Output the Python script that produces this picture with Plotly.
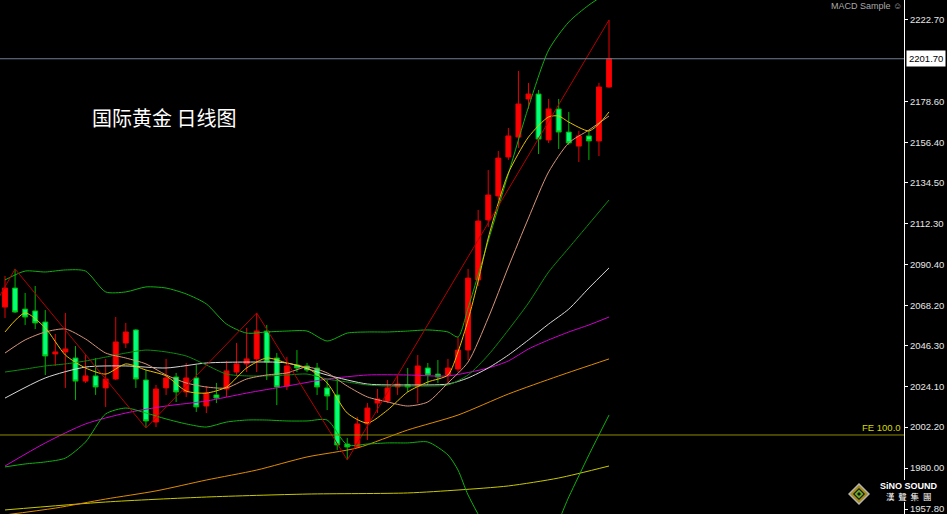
import plotly.graph_objects as go

# ---------------- candle data (daily, 61 bars) ----------------
bar_idx = list(range(61))
opens = [2067.2, 2077.5, 2066.1, 2065.1, 2059.1, 2041.8, 2042.9, 2039.6, 2027.1, 2029.9,
         2023.4, 2028.2, 2047.7, 2054.8, 2027.7, 2004.9, 2023.4, 2029.3, 2021.2, 2028.8,
         2013.6, 2019.6, 2022.8, 2032.0, 2036.4, 2039.1, 2054.2, 2039.6, 2024.4, 2035.8,
         2035.3, 2034.2, 2023.4, 2019.6, 1993.0, 1991.4, 2003.9, 2015.2, 2016.3, 2023.9,
         2025.0, 2024.4, 2034.2, 2030.9, 2030.4, 2033.6, 2043.9, 2081.9, 2114.4, 2127.4,
         2148.5, 2159.3, 2179.9, 2182.6, 2157.7, 2174.5, 2162.0, 2154.4, 2159.9, 2157.2,
         2186.4]
highs = [2084.0, 2087.8, 2074.8, 2078.6, 2065.6, 2052.6, 2064.0, 2046.1, 2041.2, 2039.6,
         2039.1, 2061.8, 2058.6, 2055.3, 2033.1, 2025.0, 2039.1, 2031.5, 2036.9, 2035.8,
         2024.4, 2026.1, 2038.0, 2047.7, 2055.9, 2064.0, 2057.5, 2042.3, 2040.1, 2043.9,
         2036.9, 2036.9, 2027.7, 2028.8, 1996.3, 2007.6, 2015.2, 2022.8, 2027.7, 2029.9,
         2034.2, 2041.2, 2036.9, 2038.5, 2039.1, 2051.0, 2087.8, 2119.8, 2141.4, 2151.7,
         2164.2, 2195.1, 2188.6, 2184.8, 2179.9, 2179.9, 2172.9, 2162.6, 2162.6, 2188.6,
         2222.7]
lows = [2061.3, 2064.0, 2057.5, 2055.3, 2030.4, 2035.3, 2023.4, 2016.9, 2026.1, 2019.6,
        2013.1, 2027.7, 2045.0, 2023.4, 2001.7, 2002.2, 2019.6, 2015.8, 2018.5, 2010.4,
        2009.8, 2015.2, 2018.5, 2029.9, 2032.0, 2032.0, 2027.7, 2014.1, 2022.3, 2032.0,
        2032.0, 2019.6, 2011.4, 1989.8, 1984.4, 1990.9, 1995.2, 2009.8, 2015.2, 2019.6,
        2021.2, 2015.2, 2025.0, 2026.1, 2026.1, 2032.0, 2038.5, 2078.6, 2110.6, 2125.2,
        2146.9, 2153.4, 2174.5, 2150.1, 2156.1, 2152.8, 2155.0, 2145.8, 2146.9, 2149.0,
        2186.0]
closes = [2077.5, 2064.5, 2061.8, 2058.6, 2040.7, 2042.9, 2044.5, 2027.1, 2029.9, 2023.9,
          2028.2, 2048.3, 2053.7, 2028.2, 2005.5, 2022.8, 2028.8, 2021.2, 2028.8, 2013.1,
          2020.6, 2017.9, 2032.6, 2036.4, 2039.1, 2054.2, 2037.4, 2023.9, 2035.3, 2034.2,
          2033.1, 2023.9, 2019.0, 1992.5, 1991.4, 2003.9, 2012.5, 2017.4, 2023.4, 2025.5,
          2023.9, 2035.3, 2030.4, 2029.3, 2034.2, 2043.9, 2082.9, 2113.8, 2127.9, 2147.9,
          2159.9, 2177.2, 2182.6, 2158.2, 2174.5, 2162.0, 2156.1, 2159.9, 2157.2, 2186.4,
          2201.7]

# ---------------- indicator lines ----------------
ma_fast_idx = [0, 2, 4, 6, 8, 10, 12, 14, 16, 18, 20, 22, 24, 26, 28, 30, 32, 34, 36, 38,
               40, 42, 44, 45, 46, 47, 48, 49, 50, 52, 54, 55, 56, 58, 59, 60]
ma_fast = [2053.7, 2064.0, 2055.9, 2041.2, 2034.2, 2030.9, 2036.4, 2033.1, 2029.9, 2021.7,
           2020.6, 2023.9, 2034.2, 2039.6, 2036.9, 2034.2, 2026.1, 2009.8, 2004.4, 2011.4,
           2021.2, 2026.6, 2030.4, 2042.9, 2060.2, 2081.3, 2104.6, 2123.6, 2139.8, 2159.3,
           2170.2, 2170.7, 2167.4, 2162.6, 2166.4, 2172.9]

even_idx = list(range(0, 61, 2))
ma_salmon = [2042.3, 2049.4, 2053.7, 2055.3, 2049.9, 2042.3, 2039.6, 2036.4, 2030.4, 2026.1,
             2023.9, 2023.4, 2028.2, 2030.4, 2031.5, 2034.7, 2031.5, 2024.4, 2018.5, 2015.8,
             2013.6, 2015.8, 2026.1, 2037.4, 2061.3, 2088.9, 2115.4, 2140.4, 2156.1, 2163.1,
             2170.7]

ma_white_idx = [0, 4, 8, 12, 16, 20, 24, 28, 32, 36, 40, 44, 46, 48, 50, 52, 54, 56, 58, 60]
ma_white = [2017.9, 2028.8, 2034.7, 2035.3, 2034.2, 2036.9, 2037.4, 2036.9, 2030.4, 2025.5,
            2025.0, 2025.5, 2028.8, 2034.2, 2041.2, 2049.4, 2058.0, 2066.1, 2077.5, 2088.4]

ma_magenta_idx = [0, 4, 8, 12, 16, 20, 24, 28, 32, 36, 40, 44, 48, 50, 52, 54, 56, 58, 60]
ma_magenta = [1981.1, 1993.6, 2003.9, 2009.8, 2013.6, 2016.3, 2020.6, 2024.4, 2028.2, 2030.4,
              2030.4, 2029.9, 2034.2, 2038.0, 2044.5, 2049.4, 2053.7, 2057.5, 2061.8]

ma_orange_idx = [0, 5, 10, 15, 20, 25, 30, 35, 40, 45, 50, 55, 60]
ma_orange = [1954.6, 1958.3, 1963.2, 1967.6, 1973.5, 1978.9, 1986.0, 1990.9, 2000.6, 2008.7,
             2020.1, 2029.9, 2039.1]

ma_long_idx = [0, 10, 20, 30, 40, 45, 50, 55, 60]
ma_long = [1957.3, 1961.6, 1964.3, 1965.9, 1966.5, 1968.1, 1970.3, 1974.6, 1981.1]

bb_idx = [0, 2, 4, 6, 8, 10, 12, 14, 16, 18, 20, 22, 24, 26, 28, 30, 32, 34, 36, 38,
          40, 42, 44, 45, 46, 48, 50, 52, 54, 56, 58, 60]
bb_upper = [2081.9, 2086.7, 2086.2, 2087.3, 2086.7, 2075.4, 2075.4, 2078.1, 2077.5, 2074.3,
            2068.9, 2058.0, 2053.1, 2053.7, 2054.2, 2054.2, 2048.8, 2053.1, 2053.7, 2053.7,
            2054.2, 2054.8, 2053.7, 2051.0, 2066.7, 2103.0, 2139.3, 2175.6, 2206.4, 2221.6,
            2230.8, 2237.9]
bb_lower = [1980.6, 1982.2, 1983.3, 1985.4, 1994.1, 2009.3, 2012.5, 2009.8, 2006.6, 2003.9,
            2002.2, 2004.9, 2006.0, 2006.0, 2005.5, 2005.5, 2006.0, 1992.5, 1993.0, 1993.6,
            1993.6, 1994.1, 1987.1, 1978.9, 1965.4, 1946.4, 1938.3, 1935.6, 1941.0, 1964.3,
            1987.1, 2008.7]
bb_mid = [2032.0, 2033.6, 2035.3, 2036.4, 2038.0, 2040.1, 2042.3, 2043.9, 2042.9, 2040.7,
          2035.8, 2030.9, 2029.9, 2029.9, 2030.4, 2030.9, 2028.2, 2026.6, 2025.0, 2024.4,
          2024.4, 2024.4, 2025.0, 2030.4, 2041.2, 2054.8, 2069.4, 2086.2, 2099.2, 2112.2,
          2125.2]
bb_mid_idx = even_idx

zz_idx = [-2, 1, 14, 25, 34, 60]
zz_val = [2059.1, 2087.8, 2001.7, 2064.0, 1984.4, 2222.7]

last_price = 2201.7
fe_level = 1997.9

tick_vals = [2222.7, 2178.6, 2156.4, 2134.5, 2112.3, 2090.4, 2068.2, 2046.3, 2024.1,
             2002.2, 1980.0, 1957.8]
tick_text = ["%.2f" % v for v in tick_vals]

# ---------------- figure ----------------
W, H = 947, 514
PLOT_W = 904

fig = go.Figure()

fig.add_trace(go.Candlestick(
    x=bar_idx, open=opens, high=highs, low=lows, close=closes,
    increasing=dict(line=dict(color="#e80000", width=1), fillcolor="#ff0000"),
    decreasing=dict(line=dict(color="#00b400", width=1), fillcolor="#00ff80"),
    hoverinfo="skip", showlegend=False))


def add_line(xs, ys, color, shape="spline"):
    fig.add_trace(go.Scatter(
        x=xs, y=ys, mode="lines",
        line=dict(color=color, width=1, shape=shape, smoothing=0.7) if shape == "spline"
        else dict(color=color, width=1),
        hoverinfo="skip", showlegend=False))


add_line(ma_long_idx, ma_long, "#c8c800")
add_line(ma_orange_idx, ma_orange, "#e08c00")
add_line(ma_magenta_idx, ma_magenta, "#d000d0")
add_line(ma_white_idx, ma_white, "#d8d8d8")
add_line(bb_idx, bb_upper, "#10b010")
add_line(bb_idx, bb_lower, "#10b010")
add_line(bb_mid_idx, bb_mid, "#0c8c0c")
add_line(even_idx, ma_salmon, "#d8957a")
add_line(ma_fast_idx, ma_fast, "#e6c000")
add_line(zz_idx, zz_val, "#b40000", shape="linear")

# horizontal lines
fig.add_shape(type="line", xref="paper", x0=0, x1=1, yref="y", y0=last_price, y1=last_price,
              line=dict(color="#6f8090", width=1))
fig.add_shape(type="line", xref="paper", x0=0, x1=1, yref="y", y0=fe_level, y1=fe_level,
              line=dict(color="#8c8c00", width=1))


def px(x):
    return x / PLOT_W


def py(y):
    return 1 - y / H


annotations = [
    dict(text="国际黄金 日线图", x=px(90), y=py(118), xref="paper", yref="paper",
         xanchor="left", yanchor="middle", showarrow=False,
         font=dict(family="Noto Sans CJK SC", size=20, color="#ffffff")),
    dict(text="FE 100.0", x=px(903), y=fe_level, xref="paper", yref="y",
         xanchor="right", yanchor="bottom", yshift=0, showarrow=False,
         font=dict(family="Liberation Sans", size=9.5, color="#d8d800")),
    dict(text="%.2f" % last_price, x=px(906), y=last_price, xref="paper", yref="y",
         xanchor="left", yanchor="middle", showarrow=False, bgcolor="#ffffff",
         borderpad=2, font=dict(family="Liberation Sans", size=9.5, color="#000000")),
    dict(text="MACD Sample \u263a", x=px(866), y=1, xref="paper", yref="paper",
         xanchor="center", yanchor="top", yshift=0, showarrow=False, borderpad=0,
         font=dict(family="Liberation Sans", size=9, color="#a8a8a8")),
    dict(text="<b>SiNO SOUND</b>", x=px(909), y=py(486), xref="paper", yref="paper",
         xanchor="center", yanchor="middle", showarrow=False, borderpad=0,
         font=dict(family="Liberation Sans", size=9, color="#ffffff")),
    dict(text="漢  聲  集  團", x=px(909), y=py(496), xref="paper", yref="paper",
         xanchor="center", yanchor="middle", showarrow=False, borderpad=0,
         font=dict(family="Noto Sans CJK TC", size=8.5, color="#ffffff")),
]

# logo background + diamond
shapes_extra = [
    dict(type="rect", xref="paper", yref="paper", x0=px(876), x1=px(942), y0=py(502), y1=py(480),
         fillcolor="#000000", line=dict(width=0), layer="above"),
]


def diamond(cx, cy, r, fill, line="rgba(0,0,0,0)"):
    pts = [(cx, cy - r), (cx + r, cy), (cx, cy + r), (cx - r, cy)]
    path = "M " + " L ".join("%f,%f" % (px(a), py(b)) for a, b in pts) + " Z"
    return dict(type="path", xref="paper", yref="paper", path=path, fillcolor=fill,
                line=dict(color=line, width=1), layer="above")


shapes_extra += [
    diamond(859, 494, 11, "#b4b4b4"),
    diamond(859, 494, 9, "#a48c1c"),
    diamond(859, 494, 6, "#111111"),
    diamond(859, 494, 4.5, "#6aaa2a"),
    diamond(859, 494, 2, "#111111"),
]
for s in shapes_extra:
    fig.add_shape(**s)

fig.update_layout(
    width=W, height=H,
    margin=dict(l=0, r=W - PLOT_W, t=0, b=0, pad=0),
    paper_bgcolor="#000000", plot_bgcolor="#000000",
    showlegend=False,
    annotations=annotations,
    xaxis=dict(range=[-0.4967, 89.30], visible=False, showgrid=False, zeroline=False,
               rangeslider=dict(visible=False), fixedrange=True),
    yaxis=dict(range=[1955.1, 2233.53], side="right", showgrid=False, zeroline=False,
               showline=True, linecolor="#ffffff", linewidth=1,
               ticks="outside", ticklen=3, tickcolor="#ffffff", tickwidth=1,
               tickvals=tick_vals, ticktext=tick_text, ticklabeloverflow="allow",
               tickfont=dict(family="Liberation Sans", size=9.5, color="#e6e6e6"),
               fixedrange=True),
)

fig.write_html("out.html", config={"displayModeBar": False},
               post_script="document.body.style.margin='0';document.body.style.background='#000';")
